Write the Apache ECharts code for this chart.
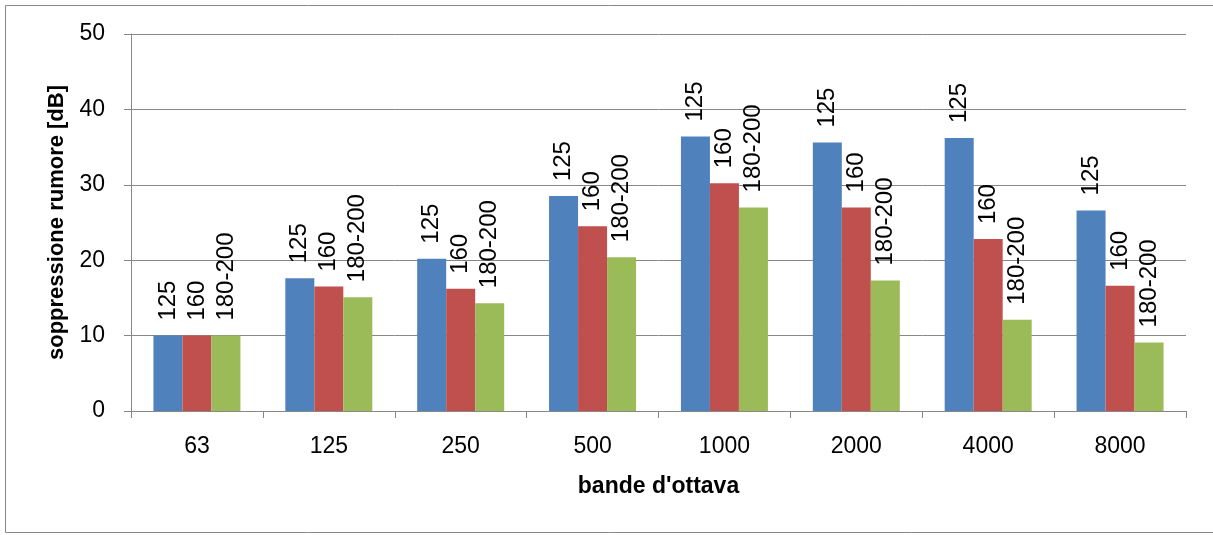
<!DOCTYPE html>
<html>
<head>
<meta charset="utf-8">
<script src="https://cdn.jsdelivr.net/npm/echarts@6/dist/echarts.min.js"></script>
<style>
html,body{margin:0;padding:0;background:#fff;}
#chart{width:1213px;height:535px;}
</style>
</head>
<body>
<div id="chart"></div>
<script>
const categories = ['63','125','250','500','1000','2000','4000','8000'];
const seriesNames = ['125','160','180-200'];
const s125 = [10, 17.6, 20.2, 28.5, 36.4, 35.6, 36.2, 26.6];
const s160 = [10, 16.5, 16.2, 24.5, 30.2, 27.0, 22.8, 16.6];
const s180 = [10, 15.1, 14.3, 20.4, 27.0, 17.3, 12.1, 9.1];
const yTicks = [0, 10, 20, 30, 40, 50];
const colors = ['#4F81BD', '#C0504D', '#9BBB59'];

const chart = echarts.init(document.getElementById('chart'));
const font = '"Liberation Sans", Arial, sans-serif';
const data = [s125, s160, s180];

chart.setOption({
  animation: false,
  backgroundColor: '#fff',
  graphic: [{
    type: 'rect',
    shape: {x: 5.5, y: 5.5, width: 1210, height: 527},
    style: {fill: 'none', stroke: '#888', lineWidth: 1},
    silent: true, z: -1
  }],
  grid: {left: 131, right: 27, top: 34, bottom: 124},
  xAxis: {
    type: 'category',
    data: categories,
    name: "bande d'ottava",
    nameLocation: 'middle',
    nameGap: 64,
    nameTextStyle: {fontFamily: font, fontWeight: 'bold', fontSize: 23, color: '#000'},
    axisLine: {lineStyle: {color: '#888', width: 1}},
    axisTick: {show: true, length: 7, lineStyle: {color: '#888'}},
    axisLabel: {fontFamily: font, fontSize: 23, color: '#000', margin: 24}
  },
  yAxis: {
    type: 'value',
    min: yTicks[0], max: yTicks[yTicks.length - 1], interval: 10,
    name: 'soppressione rumore [dB]',
    nameLocation: 'middle',
    nameGap: 63,
    nameTextStyle: {fontFamily: font, fontWeight: 'bold', fontSize: 22, color: '#000'},
    axisLine: {show: true, lineStyle: {color: '#888', width: 1}},
    axisTick: {show: true, length: 7, inside: false, lineStyle: {color: '#888'}},
    axisLabel: {fontFamily: font, fontSize: 23, color: '#000', margin: 26},
    splitLine: {lineStyle: {color: '#888', width: 1}}
  },
  series: seriesNames.map((name, i) => ({
    name: name,
    type: 'bar',
    data: data[i],
    barWidth: 29,
    barGap: '0%',
    itemStyle: {color: colors[i]},
    label: {
      show: true,
      position: 'top',
      rotate: 90,
      align: 'left',
      verticalAlign: 'middle',
      distance: 15,
      formatter: () => name,
      fontFamily: font,
      fontSize: 24,
      color: '#000'
    }
  }))
});
</script>
</body>
</html>
